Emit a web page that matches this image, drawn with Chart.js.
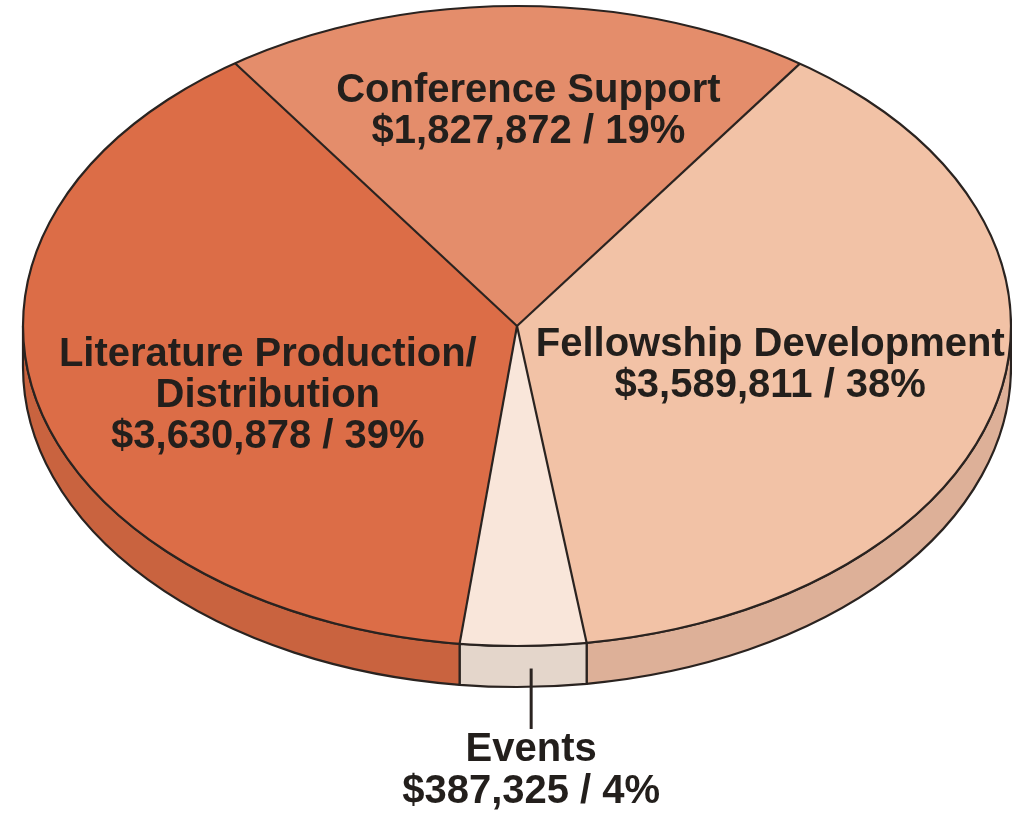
<!DOCTYPE html>
<html>
<head>
<meta charset="utf-8">
<script src="https://cdn.jsdelivr.net/npm/chart.js@4/dist/chart.umd.min.js"></script>
<style>
  html, body { margin: 0; padding: 0; background: #fff; }
  canvas { display: block; }
</style>
</head>
<body>
<canvas id="pie" width="1012" height="814"></canvas>
<script>
// Slices in clockwise order, starting at the top
const categories = ["Conference Support", "Fellowship Development", "Events", "Literature Production/Distribution"];
const labelLines = [["Conference Support"], ["Fellowship Development"], ["Events"], ["Literature Production/", "Distribution"]];
const amounts = [1827872, 3589811, 387325, 3630878];
const percents = ["19%", "38%", "4%", "39%"];

const topColors = ["#e48d6b", "#f2c2a6", "#f9e6da", "#dc6d47"];
const sideColors = ["#cf7a5a", "#ddb098", "#e4d6cb", "#c9633f"];

// Tilted disc geometry (screen pixels)
const CX = 517, CY = 326, RX = 494, RY = 320, DEPTH = 41;
const INK = "#2a2320";

// label placement: fraction of radius along the slice's mid angle + nudge
const labelPlace = [
  { f: 0.675, dx: 11, dy: 1 },
  { f: 0.527, dx: 0, dy: 0 },
  { f: 1.0, dx: 8, dy: 0, outside: true },
  { f: 0.52, dx: 0, dy: 30 }
];

function frontParts(s, e) {
  // pieces of [s,e] that lie on the front (lower) half of the disc
  const TAU = Math.PI * 2;
  while (s >= Math.PI) { s -= TAU; e -= TAU; }
  while (s < -Math.PI) { s += TAU; e += TAU; }
  const parts = [];
  [[0, Math.PI], [TAU, TAU + Math.PI]].forEach(([a, b]) => {
    const lo = Math.max(s, a), hi = Math.min(e, b);
    if (hi > lo) parts.push([lo, hi]);
  });
  return parts;
}

const tilt = {
  id: "tilt",
  beforeDatasetsDraw(chart) {
    const ctx = chart.ctx;
    const arcs = chart.getDatasetMeta(0).data;

    // side walls
    ctx.save();
    ctx.lineWidth = 2.2;
    ctx.strokeStyle = INK;
    ctx.lineJoin = "round";
    arcs.forEach((arc, i) => {
      frontParts(arc.startAngle, arc.endAngle).forEach(([s, e]) => {
        ctx.beginPath();
        ctx.ellipse(CX, CY, RX, RY, 0, s, e);
        ctx.ellipse(CX, CY + DEPTH, RX, RY, 0, e, s, true);
        ctx.closePath();
        ctx.fillStyle = sideColors[i];
        ctx.fill();
        ctx.stroke();
      });
    });
    ctx.restore();

    // squash the library's round pie onto the top face
    const a0 = arcs[0];
    const r = a0.outerRadius;
    ctx.save();
    ctx.translate(CX, CY);
    ctx.scale(RX / r, RY / r);
    ctx.translate(-a0.x, -a0.y);
  },
  afterDatasetsDraw(chart) {
    const ctx = chart.ctx;
    ctx.restore();
    const arcs = chart.getDatasetMeta(0).data;

    // outlines of the top face
    ctx.save();
    ctx.lineWidth = 2.2;
    ctx.strokeStyle = INK;
    ctx.beginPath();
    ctx.ellipse(CX, CY, RX, RY, 0, 0, Math.PI * 2);
    ctx.stroke();
    arcs.forEach(arc => {
      ctx.beginPath();
      ctx.moveTo(CX, CY);
      ctx.lineTo(CX + RX * Math.cos(arc.startAngle), CY + RY * Math.sin(arc.startAngle));
      ctx.stroke();
    });

    // labels
    ctx.fillStyle = "#231f1c";
    ctx.font = 'bold 40px "Liberation Sans", Arial, sans-serif';
    ctx.textAlign = "center";
    ctx.textBaseline = "middle";
    const lh = 41;
    arcs.forEach((arc, i) => {
      const p = labelPlace[i];
      const mid = (arc.startAngle + arc.endAngle) / 2;
      const x = CX + RX * p.f * Math.cos(mid) + p.dx;
      const y = CY + RY * p.f * Math.sin(mid) + p.dy;
      const lines = labelLines[i].concat(["$" + amounts[i].toLocaleString("en-US") + " / " + percents[i]]);
      if (p.outside) {
        ctx.lineWidth = 3;
        ctx.beginPath();
        ctx.moveTo(x, y + DEPTH * 0.55);
        ctx.lineTo(x, y + 83);
        ctx.stroke();
        lines.forEach((t, k) => ctx.fillText(t, x, y + 104 + k * 42));
      } else {
        const top = y - (lines.length - 1) * lh / 2;
        lines.forEach((t, k) => ctx.fillText(t, x, top + k * lh));
      }
    });
    ctx.restore();
  }
};

new Chart(document.getElementById("pie"), {
  type: "pie",
  data: {
    labels: categories,
    datasets: [{
      data: amounts,
      backgroundColor: topColors,
      borderWidth: 0,
      clip: false
    }]
  },
  options: {
    responsive: false,
    animation: false,
    rotation: -34.8,
    layout: { padding: 0 },
    plugins: {
      legend: { display: false },
      tooltip: { enabled: false }
    }
  },
  plugins: [tilt]
});
</script>
</body>
</html>
